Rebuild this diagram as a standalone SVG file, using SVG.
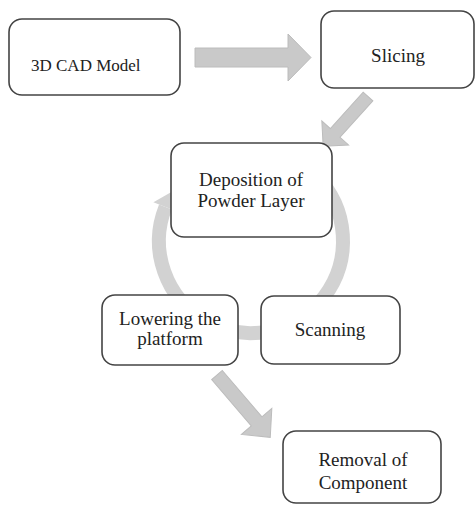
<svg xmlns="http://www.w3.org/2000/svg" width="476" height="508" viewBox="0 0 476 508">
<style>
.box{fill:#fff;stroke:#444;stroke-width:1.6}
.t{font-family:"Liberation Serif","Times New Roman",serif;font-size:19px;fill:#222;text-anchor:middle}
.blk{fill:#c9c9c9;stroke:#bcbcbc;stroke-width:1}
.ring{fill:none;stroke:#d2d2d2;stroke-width:14}
</style>
<rect width="476" height="508" fill="#fff"/>
<g id="connectors">
<path class="ring" d="M316.05 175.95 A92 92 0 1 1 165.52 206.99"/>
<polygon fill="#d2d2d2" points="153.4,202.2 177.6,211.8 171.4,192"/>
<polygon class="blk" points="195,48 288,48 288,34 311,57.5 288,81 288,67 195,67"/>
<polygon class="blk" transform="translate(368,96.5) rotate(132)" points="0,-6.5 49,-6.5 49,-18 67,0 49,18 49,6.5 0,6.5"/>
<polygon class="blk" transform="translate(217,375) rotate(49.5)" points="0,-7 61,-7 61,-20 82,0 61,20 61,7 0,7"/>
</g>
<g id="cad">
<rect class="box" x="9" y="19" width="171" height="76" rx="13"/>
<text class="t" x="31" y="71" style="font-size:17px;text-anchor:start">3D CAD Model</text>
</g>
<g id="slicing">
<rect class="box" x="321" y="11" width="153" height="77" rx="13"/>
<text class="t" x="398" y="62">Slicing</text>
</g>
<g id="deposition">
<rect class="box" x="171" y="143" width="161" height="94" rx="13"/>
<text class="t" x="251" y="186">Deposition of</text>
<text class="t" x="251" y="207">Powder Layer</text>
</g>
<g id="lowering">
<rect class="box" x="102" y="295" width="136" height="70" rx="13"/>
<text class="t" x="170" y="325">Lowering the</text>
<text class="t" x="170" y="345">platform</text>
</g>
<g id="scanning">
<rect class="box" x="261" y="296" width="139" height="68" rx="13"/>
<text class="t" x="330" y="336">Scanning</text>
</g>
<g id="removal">
<rect class="box" x="283" y="431" width="158" height="72" rx="13"/>
<text class="t" x="363" y="466">Removal of</text>
<text class="t" x="363" y="489">Component</text>
</g>
</svg>
